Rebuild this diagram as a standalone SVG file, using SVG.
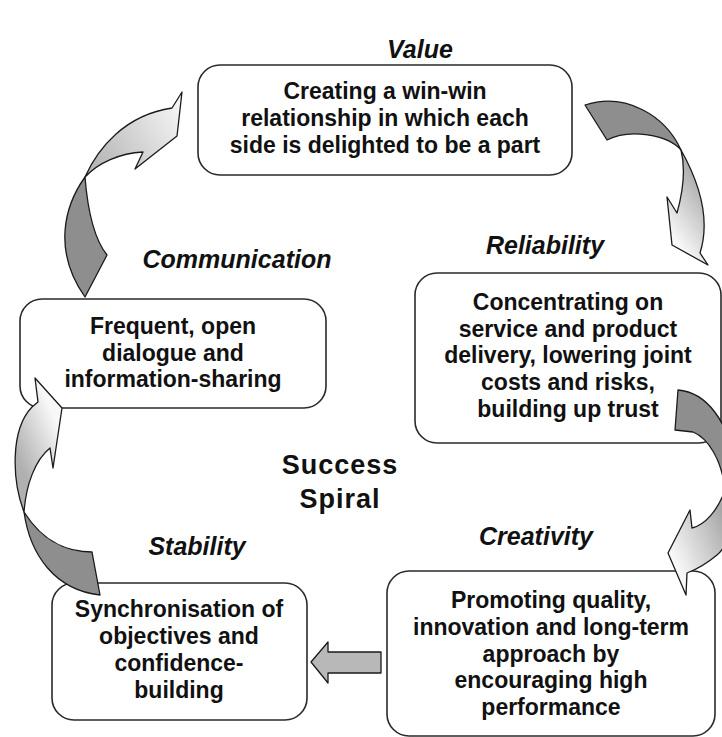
<svg xmlns="http://www.w3.org/2000/svg" width="722" height="737" viewBox="0 0 722 737">
<style>
.box{fill:#fff;stroke:#2a2a2a;stroke-width:1.6}
.txt{font-family:"Liberation Sans",Arial,sans-serif;font-size:23px;font-weight:bold;fill:#111;text-anchor:middle}
.lbl{font-family:"Liberation Sans",Arial,sans-serif;font-size:25px;font-weight:bold;font-style:italic;fill:#111;text-anchor:middle}
.big{font-family:"Liberation Sans",Arial,sans-serif;font-size:27px;font-weight:bold;fill:#111;text-anchor:middle;letter-spacing:1px}
.dark{fill:#8e8e8e;stroke:#1a1a1a;stroke-width:1.3;stroke-linejoin:round}
.light{stroke:#1a1a1a;stroke-width:1.3;stroke-linejoin:round}
</style>
<defs>
<linearGradient id="g1" gradientUnits="userSpaceOnUse" x1="95" y1="160" x2="180" y2="110"><stop offset="0" stop-color="#b8b8b8"/><stop offset="1" stop-color="#f4f4f4"/></linearGradient>
<linearGradient id="g2" gradientUnits="userSpaceOnUse" x1="710" y1="200" x2="668" y2="230"><stop offset="0" stop-color="#b0b0b0"/><stop offset="1" stop-color="#f8f8f8"/></linearGradient>
<linearGradient id="g3" gradientUnits="userSpaceOnUse" x1="730" y1="530" x2="672" y2="555"><stop offset="0" stop-color="#a8a8a8"/><stop offset="1" stop-color="#f8f8f8"/></linearGradient>
<linearGradient id="g4" gradientUnits="userSpaceOnUse" x1="14" y1="450" x2="60" y2="430"><stop offset="0" stop-color="#b0b0b0"/><stop offset="1" stop-color="#f8f8f8"/></linearGradient>
</defs>
<rect width="722" height="737" fill="#fff"/>

<g id="labels">
<text class="lbl" x="420" y="58">Value</text>
<text class="lbl" x="545" y="254">Reliability</text>
<text class="lbl" x="237" y="268">Communication</text>
<text class="lbl" x="536" y="545">Creativity</text>
<text class="lbl" x="197" y="555">Stability</text>
<text class="big" x="340" y="474">Success</text>
<text class="big" x="340" y="508">Spiral</text>
</g>

<g id="value">
<rect class="box" x="198" y="65" width="374" height="110" rx="22"/>
<text class="txt" x="385"><tspan x="385" y="99">Creating a win-win</tspan><tspan x="385" y="126">relationship in which each</tspan><tspan x="385" y="153">side is delighted to be a part</tspan></text>
</g>

<g id="reliability">
<rect class="box" x="415" y="273" width="306" height="170" rx="22"/>
<text class="txt" x="568"><tspan x="568" y="310">Concentrating on</tspan><tspan x="568" y="337">service and product</tspan><tspan x="568" y="363">delivery, lowering joint</tspan><tspan x="568" y="390">costs and risks,</tspan><tspan x="568" y="417">building up trust</tspan></text>
</g>

<g id="creativity">
<rect class="box" x="387" y="571" width="328" height="165" rx="22"/>
<text class="txt" x="551"><tspan x="551" y="608">Promoting quality,</tspan><tspan x="551" y="635">innovation and long-term</tspan><tspan x="551" y="662">approach by</tspan><tspan x="551" y="688">encouraging high</tspan><tspan x="551" y="715">performance</tspan></text>
</g>

<g id="communication">
<rect class="box" x="20" y="299" width="306" height="109" rx="22"/>
<text class="txt" x="173"><tspan x="173" y="334">Frequent, open</tspan><tspan x="173" y="361">dialogue and</tspan><tspan x="173" y="387">information-sharing</tspan></text>
</g>

<g id="stability">
<rect class="box" x="52" y="583" width="255" height="137" rx="22"/>
<text class="txt" x="179"><tspan x="179" y="617">Synchronisation of</tspan><tspan x="179" y="644">objectives and</tspan><tspan x="179" y="671">confidence-</tspan><tspan x="179" y="698">building</tspan></text>
</g>

<g id="connectors">
<!-- Communication -> Value -->
<path class="dark" d="M85,177 C65,205 52,250 85,297 L107,255 C95,240 88,215 85,177 Z"/>
<path class="light" fill="url(#g1)" d="M85,177 C98,148 125,115 172,108 L182,92 L177,136 L135,169 L143,152 C120,153 98,163 85,177 Z"/>
<!-- Value -> Reliability -->
<path class="dark" d="M585,105 C625,92 665,115 681,150 C668,135 630,128 607,140 Z"/>
<path class="light" fill="url(#g2)" d="M681,150 C695,175 712,215 700,253 L708,265 L672,245 L667,197 L677,213 C682,195 686,170 681,150 Z"/>
<!-- Reliability -> Creativity -->
<path class="dark" d="M678,390 C705,392 730,420 735,470 L725,490 C722,460 708,438 693,432 L675,430 Z"/>
<path class="light" fill="url(#g3)" d="M735,470 C738,510 730,545 717,555 C705,565 695,570 687,573 L686,595 L668,553 L690,510 L692,528 C705,525 718,510 725,490 Z"/>
<!-- Creativity -> Stability -->
<path fill="#b8b8b8" stroke="#1a1a1a" stroke-width="1.3" stroke-linejoin="round" d="M381,652 L328,652 L328,642 L311,662 L328,683 L328,673 L381,673 Z"/>
<!-- Stability -> Communication -->
<path class="dark" d="M24,512 C30,555 55,590 100,595 L92,552 C70,552 45,545 24,512 Z"/>
<path class="light" fill="url(#g4)" d="M24,512 C12,480 10,430 32,407 L38,402 L35,378 L62,408 L53,468 L50,448 C35,460 26,485 24,512 Z"/>
</g>
</svg>
